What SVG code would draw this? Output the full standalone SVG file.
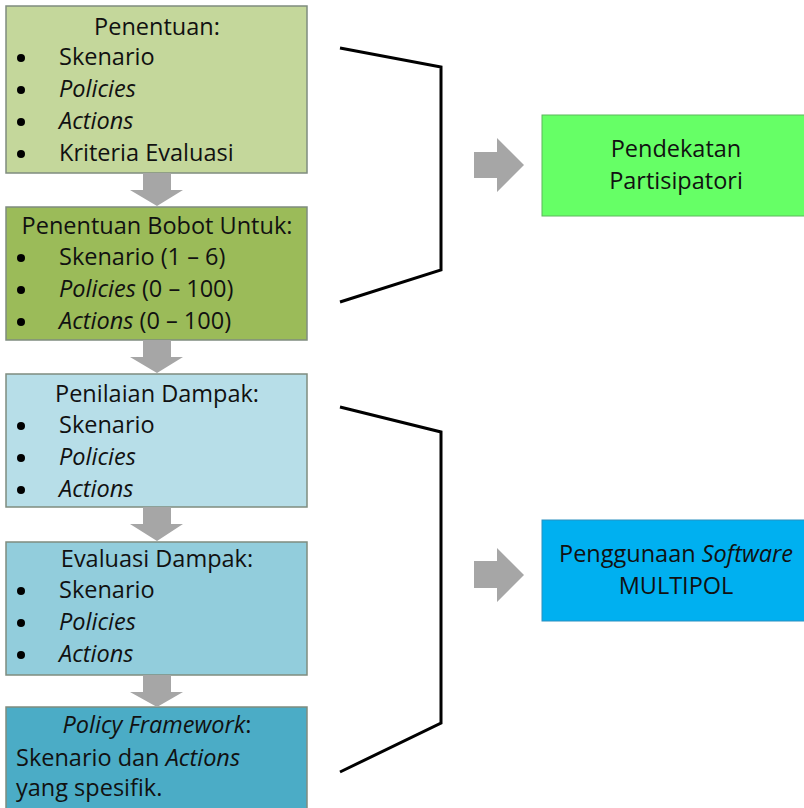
<svg xmlns="http://www.w3.org/2000/svg" width="804" height="808" viewBox="0 0 804 808">
<style>
  .box{stroke:#7f8c7f;stroke-width:1.5}
  .t{font-family:"Open Sans","Noto Sans","Liberation Sans",sans-serif;font-size:23.5px;fill:#111}
  .c{text-anchor:middle}
  .i{font-style:italic}
  .arr{fill:#a6a6a6}
  .br{fill:none;stroke:#000;stroke-width:3;stroke-linejoin:miter}
  .dot{fill:#000}
</style>
<rect width="804" height="808" fill="#fff"/>

<g id="n1">
  <rect class="box" x="6" y="6" width="301" height="167" fill="#c4d79b"/>
  <text class="t c" x="157" y="35">Penentuan:</text>
  <circle class="dot" cx="21" cy="58" r="4"/>
  <text class="t" x="59" y="65">Skenario</text>
  <circle class="dot" cx="21" cy="90" r="4"/>
  <text class="t i" x="59" y="97">Policies</text>
  <circle class="dot" cx="21" cy="122" r="4"/>
  <text class="t i" x="59" y="129">Actions</text>
  <circle class="dot" cx="21" cy="154" r="4"/>
  <text class="t" x="59" y="161">Kriteria Evaluasi</text>
</g>

<g id="n2">
  <rect class="box" x="6" y="207" width="301" height="133" fill="#9bbb59"/>
  <text class="t c" x="157" y="234">Penentuan Bobot Untuk:</text>
  <circle class="dot" cx="21" cy="258" r="4"/>
  <text class="t" x="59" y="265">Skenario (1 – 6)</text>
  <circle class="dot" cx="21" cy="290" r="4"/>
  <text class="t" x="59" y="297"><tspan class="i">Policies</tspan> (0 – 100)</text>
  <circle class="dot" cx="21" cy="322" r="4"/>
  <text class="t" x="59" y="329"><tspan class="i">Actions</tspan> (0 – 100)</text>
</g>

<g id="n3">
  <rect class="box" x="6" y="374" width="301" height="133" fill="#b7dee8"/>
  <text class="t c" x="157" y="402">Penilaian Dampak:</text>
  <circle class="dot" cx="21" cy="426" r="4"/>
  <text class="t" x="59" y="433">Skenario</text>
  <circle class="dot" cx="21" cy="458" r="4"/>
  <text class="t i" x="59" y="465">Policies</text>
  <circle class="dot" cx="21" cy="490" r="4"/>
  <text class="t i" x="59" y="497">Actions</text>
</g>

<g id="n4">
  <rect class="box" x="6" y="542" width="301" height="133" fill="#92cddc"/>
  <text class="t c" x="157" y="567">Evaluasi Dampak:</text>
  <circle class="dot" cx="21" cy="591" r="4"/>
  <text class="t" x="59" y="598">Skenario</text>
  <circle class="dot" cx="21" cy="623" r="4"/>
  <text class="t i" x="59" y="630">Policies</text>
  <circle class="dot" cx="21" cy="655" r="4"/>
  <text class="t i" x="59" y="662">Actions</text>
</g>

<g id="n5">
  <rect class="box" x="6" y="707" width="301" height="104" fill="#4bacc6"/>
  <text class="t c" x="157" y="733"><tspan class="i">Policy Framework</tspan>:</text>
  <text class="t" x="16" y="766">Skenario dan <tspan class="i">Actions</tspan></text>
  <text class="t" x="16" y="796">yang spesifik.</text>
</g>

<g id="n6">
  <rect x="542" y="115" width="266" height="101" fill="#66ff66" stroke="#5cb85c" stroke-width="1"/>
  <text class="t c" x="676" y="157">Pendekatan</text>
  <text class="t c" x="676" y="189">Partisipatori</text>
</g>

<g id="n7">
  <rect x="542" y="520" width="266" height="101" fill="#00b0f0" stroke="#2a8fc0" stroke-width="1"/>
  <text class="t c" x="676" y="562">Penggunaan <tspan class="i">Software</tspan></text>
  <text class="t c" x="676" y="594">MULTIPOL</text>
</g>

<g id="connectors">
  <polygon class="arr" points="143,173 171,173 171,190 183,190 157,206 130,190 143,190"/>
  <polygon class="arr" points="143,340 171,340 171,357 183,357 157,373 130,357 143,357"/>
  <polygon class="arr" points="143,507 171,507 171,524 183,524 157,541 130,524 143,524"/>
  <polygon class="arr" points="143,675 171,675 171,692 183,692 157,707 130,692 143,692"/>
  <polygon class="arr" points="474,152 497,152 497,138 524,165 497,192 497,178 474,178"/>
  <polygon class="arr" points="474,561 497,561 497,548 524,575 497,602 497,588 474,588"/>
  <polyline class="br" points="340,48 441,67 441,270 340,302"/>
  <polyline class="br" points="340,407 441,432 441,723 340,772"/>
</g>
</svg>
